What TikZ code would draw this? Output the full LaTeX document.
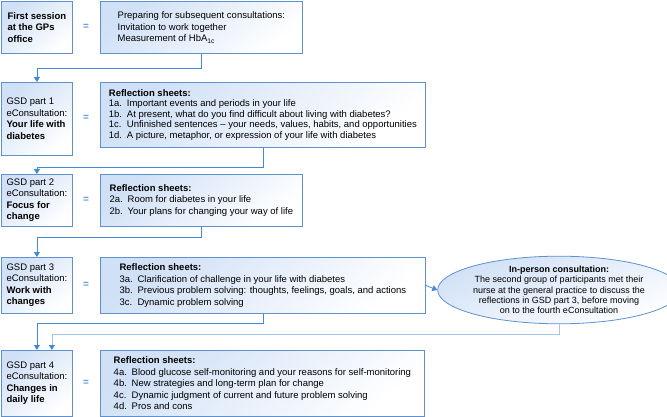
\documentclass[tikz,border=0pt]{standalone}
\usepackage{fontspec}
\setmainfont{Liberation Sans}
\usetikzlibrary{arrows.meta,shapes.geometric}

\definecolor{edgeblue}{RGB}{95,145,205}
\definecolor{fillblue}{RGB}{208,224,246}
\definecolor{linkblue}{RGB}{70,135,215}
\definecolor{paleblue}{RGB}{165,198,236}
\definecolor{eqblue}{RGB}{90,150,215}

\tikzset{
  box/.style={draw=edgeblue, line width=0.8pt, top color=fillblue, bottom color=white,
    shading angle=40, anchor=north west, inner sep=0pt, align=left,
    font=\fontsize{9.5}{11.5}\selectfont},
  consult/.style={ellipse, draw=edgeblue, line width=0.8pt, top color=fillblue,
    bottom color=white, shading angle=20, inner sep=0pt, align=center,
    font=\fontsize{9}{10.3}\selectfont},
  equal/.style={text=eqblue, font=\bfseries\fontsize{10}{12}\selectfont},
  link/.style={draw=linkblue, line width=0.8pt},
  tip/.style={-{Triangle[length=5pt,width=6pt,color=linkblue]}},
}
\newcommand{\sheet}[2]{\makebox[18pt][l]{#1.}#2}

\begin{document}
\begin{tikzpicture}[x=1pt,y=-1pt]
\useasboundingbox (0,0) rectangle (667,417);

% first session
\node[box, minimum width=71pt, minimum height=52pt] (l1) at (1,1)
  {\textbf{First session}\\\textbf{at the GPs}\\\textbf{office}};
\node[equal] (e1) at (86,27) {=};
\node[box, minimum width=202pt, minimum height=52pt] (r1) at (100,1)
  {Preparing for subsequent consultations:\\Invitation to work together\\Measurement of HbA\textsubscript{1c}};

% part 1
\node[box, minimum width=71pt, minimum height=73pt] (l2) at (1,82)
  {GSD part 1\\eConsultation:\\\textbf{Your life with}\\\textbf{diabetes}};
\node[equal] (e2) at (86,118) {=};
\node[box, minimum width=325pt, minimum height=65pt, font=\fontsize{9.5}{10.5}\selectfont] (r2) at (100,82)
  {\textbf{Reflection sheets:}\\
   \sheet{1a}{Important events and periods in your life}\\
   \sheet{1b}{At present, what do you find difficult about living with diabetes?}\\
   \sheet{1c}{Unfinished sentences -- your needs, values, habits, and opportunities}\\
   \sheet{1d}{A picture, metaphor, or expression of your life with diabetes}};

% part 2
\node[box, minimum width=71pt, minimum height=52pt] (l3) at (1,174)
  {GSD part 2\\eConsultation:\\\textbf{Focus for}\\\textbf{change}};
\node[equal] (e3) at (86,200) {=};
\node[box, minimum width=202pt, minimum height=52pt] (r3) at (100,174)
  {\textbf{Reflection sheets:}\\
   \sheet{2a}{Room for diabetes in your life}\\
   \sheet{2b}{Your plans for changing your way of life}};

% part 3
\node[box, minimum width=71pt, minimum height=56pt] (l4) at (1,257)
  {GSD part 3\\eConsultation:\\\textbf{Work with}\\\textbf{changes}};
\node[equal] (e4) at (86,285) {=};
\node[box, minimum width=325pt, minimum height=56pt] (r4) at (100,257)
  {\textbf{Reflection sheets:}\\
   \sheet{3a}{Clarification of challenge in your life with diabetes}\\
   \sheet{3b}{Previous problem solving: thoughts, feelings, goals, and actions}\\
   \sheet{3c}{Dynamic problem solving}};

% in-person consultation
\node[consult, minimum width=212pt, minimum height=66pt] (ell) at (559,290)
  {\textbf{In-person consultation:}\\
   The second group of participants met their\\
   nurse at the general practice to discuss the\\
   reflections in GSD part 3, before moving\\
   on to the fourth eConsultation};

% part 4
\node[box, minimum width=71pt, minimum height=66pt] (l5) at (1,350)
  {GSD part 4\\eConsultation:\\\textbf{Changes in}\\\textbf{daily life}};
\node[equal] (e5) at (86,383) {=};
\node[box, minimum width=324pt, minimum height=66pt] (r5) at (100,350)
  {\textbf{Reflection sheets:}\\
   \sheet{4a}{Blood glucose self-monitoring and your reasons for self-monitoring}\\
   \sheet{4b}{New strategies and long-term plan for change}\\
   \sheet{4c}{Dynamic judgment of current and future problem solving}\\
   \sheet{4d}{Pros and cons}};

% connectors
\draw[link,tip] (r1.south) -- ++(0,15) -| (l2.north);
\draw[link,tip] (r2.south) -- ++(0,20) -| (l3.north);
\draw[link,tip] (r3.south) -- ++(0,11) -| (l4.north);
\draw[link,tip] (r4.east) -- (ell.west);
\draw[link,tip] (r4.south) -- ++(0,10) -| (l5.north);
\draw[link,draw=paleblue,tip] (ell.south) -- ++(0,10) -| ([xshift=15pt]l5.north);
\end{tikzpicture}
\end{document}
